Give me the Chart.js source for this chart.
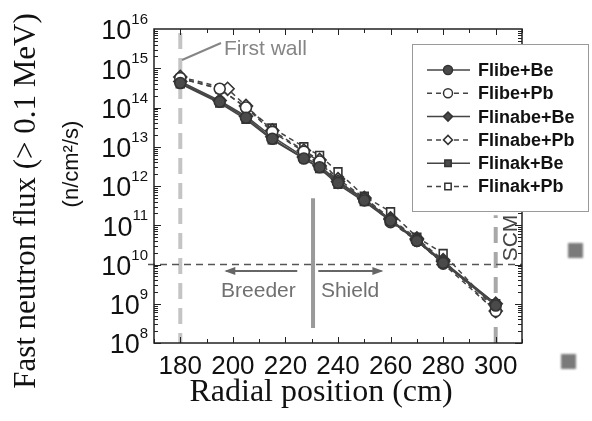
<!DOCTYPE html>
<html>
<head>
<meta charset="utf-8">
<script src="https://cdn.jsdelivr.net/npm/chart.js@4.4.1/dist/chart.umd.min.js"></script>
<style>
  html, body { margin: 0; padding: 0; background: #fff; }
  #wrap { position: relative; width: 592px; height: 421px; }
  .blob { position: absolute; width: 15px; height: 15px; background: #7a7a7a; filter: blur(1px); }
</style>
</head>
<body>
<div id="wrap">
  <canvas id="fluxChart" width="592" height="421"></canvas>
  <div class="blob" style="left:568px;top:243px"></div>
  <div class="blob" style="left:561px;top:354px"></div>
</div>
<script>
const CHART = document.getElementById("fluxChart");

// radial positions (cm)
let radius = [180, 195, 205, 215, 227, 233, 240, 250, 260, 270, 280, 300]
let flinabePbRadius = [180, 198, 205, 215, 227, 233, 240, 250, 260, 270, 280, 300]

// fast neutron flux (n/cm2/s)
let flibeBe   = [4.2e14, 1.4e14, 5.5e13, 1.6e13, 5.0e12, 3.0e12, 1.2e12, 4.3e11, 1.3e11, 4.0e10, 1.1e10, 9.0e8]
let flibePb   = [5.6e14, 3.0e14, 1.0e14, 2.4e13, 7.5e12, 4.2e12, 1.3e12, 4.6e11, 1.2e11, 4.0e10, 1.05e10, 6.5e8]
let flinabeBe = [4.6e14, 1.5e14, 6.0e13, 1.8e13, 5.5e12, 3.3e12, 1.3e12, 4.7e11, 1.4e11, 4.3e10, 1.2e10, 1.0e9]
let flinabePb = [6.0e14, 3.0e14, 1.1e14, 2.6e13, 8.0e12, 4.6e12, 1.5e12, 5.0e11, 1.5e11, 4.6e10, 1.3e10, 6.5e8]
let flinakBe  = [4.0e14, 1.3e14, 5.0e13, 1.5e13, 5.0e12, 2.8e12, 1.1e12, 4.0e11, 1.3e11, 4.0e10, 1.1e10, 1.0e9]
let flinakPb  = [5.5e14, 3.0e14, 1.0e14, 3.0e13, 1.0e13, 6.0e12, 2.3e12, 5.5e11, 2.2e11, 5.0e10, 1.9e10, 7.0e8]

let xTicks = [180, 200, 220, 240, 260, 280, 300]
let yExponents = [8, 9, 10, 11, 12, 13, 14, 15, 16]

function pts(xs, ys) {
    return xs.map((x, i) => ({ x: x, y: ys[i] }));
}

function series(label, xs, ys, style, filled, dashed) {
    return {
        label: label,
        data: pts(xs, ys),
        borderColor: '#444',
        borderWidth: 1.5,
        borderDash: dashed ? [5, 4] : [],
        pointStyle: style,
        pointRadius: style === 'rectRot' ? 6.5 : 5.5,
        pointBorderWidth: 1.6,
        pointBorderColor: '#333',
        pointBackgroundColor: filled ? '#4a4a4a' : '#fff',
        fill: false,
        tension: 0,
    };
}

const data = {
    datasets: [
        series('Flibe+Be', radius, flibeBe, 'circle', true, false),
        series('Flibe+Pb', radius, flibePb, 'circle', false, true),
        series('Flinabe+Be', radius, flinabeBe, 'rectRot', true, false),
        series('Flinabe+Pb', flinabePbRadius, flinabePb, 'rectRot', false, true),
        series('Flinak+Be', radius, flinakBe, 'rect', true, false),
        series('Flinak+Pb', radius, flinakPb, 'rect', false, true),
    ]
};

// background lines: first wall, breeder/shield border, 1e10 limit, SCM
const guides = {
    id: 'guides',
    beforeDatasetsDraw(chart) {
        const { ctx, chartArea: a, scales: { x, y } } = chart;
        ctx.save();
        // first wall
        ctx.strokeStyle = '#c4c4c4';
        ctx.lineWidth = 4;
        ctx.setLineDash([16, 9]);
        ctx.beginPath();
        ctx.moveTo(x.getPixelForValue(180), a.top + 4);
        ctx.lineTo(x.getPixelForValue(180), a.bottom);
        ctx.stroke();
        // SCM
        ctx.strokeStyle = '#a8a8a8';
        ctx.beginPath();
        ctx.moveTo(x.getPixelForValue(300), a.bottom);
        ctx.lineTo(x.getPixelForValue(300), y.getPixelForValue(1.8e11));
        ctx.stroke();
        // breeder / shield border
        ctx.setLineDash([]);
        ctx.strokeStyle = '#9a9a9a';
        ctx.beginPath();
        ctx.moveTo(x.getPixelForValue(230.5), y.getPixelForValue(4.9e11));
        ctx.lineTo(x.getPixelForValue(230.5), y.getPixelForValue(2.4e8));
        ctx.stroke();
        // 1e10 limit
        ctx.strokeStyle = '#555';
        ctx.lineWidth = 1.3;
        ctx.setLineDash([7, 5]);
        ctx.beginPath();
        ctx.moveTo(a.left - 6, y.getPixelForValue(1e10));
        ctx.lineTo(a.right, y.getPixelForValue(1e10));
        ctx.stroke();
        ctx.setLineDash([]);
        // arrows
        const ay = y.getPixelForValue(6.8e9);
        ctx.strokeStyle = '#666';
        ctx.fillStyle = '#666';
        ctx.lineWidth = 2;
        function arrow(x0, x1) {
            ctx.beginPath();
            ctx.moveTo(x0, ay);
            ctx.lineTo(x1, ay);
            ctx.stroke();
            const d = x1 > x0 ? 1 : -1;
            ctx.beginPath();
            ctx.moveTo(x1 + d * 2, ay);
            ctx.lineTo(x1 - d * 9, ay - 4);
            ctx.lineTo(x1 - d * 9, ay + 4);
            ctx.closePath();
            ctx.fill();
        }
        arrow(x.getPixelForValue(224.5), x.getPixelForValue(197.5));
        arrow(x.getPixelForValue(232.5), x.getPixelForValue(256.5));
        ctx.font = '21px "Liberation Sans", Arial, sans-serif';
        ctx.fillStyle = '#707070';
        ctx.textBaseline = 'middle';
        ctx.textAlign = 'left';
        ctx.fillText('Breeder', x.getPixelForValue(195.5), ay + 20);
        ctx.fillText('Shield', x.getPixelForValue(233.5), ay + 20);
        // first wall label
        ctx.font = '21px "Liberation Sans", Arial, sans-serif';
        ctx.fillStyle = '#858585';
        ctx.fillText('First wall', 224, 49);
        ctx.strokeStyle = '#858585';
        ctx.lineWidth = 2;
        ctx.beginPath();
        ctx.moveTo(182, 60);
        ctx.lineTo(221, 43);
        ctx.stroke();
        // SCM label
        ctx.save();
        ctx.translate(511, 238);
        ctx.rotate(-Math.PI / 2);
        ctx.fillStyle = '#444';
        ctx.textAlign = 'center';
        ctx.font = '21px "Liberation Sans", Arial, sans-serif';
        ctx.fillText('SCM', 0, 0);
        ctx.restore();
        ctx.restore();
    }
};

// frame, ticks, tick labels, titles and legend
const frame = {
    id: 'frame',
    afterDraw(chart) {
        const { ctx, chartArea: a, scales: { x, y } } = chart;
        ctx.save();
        ctx.strokeStyle = '#222';
        ctx.lineWidth = 1.5;
        ctx.strokeRect(a.left, a.top, a.right - a.left, a.bottom - a.top);
        ctx.lineWidth = 1;
        ctx.beginPath();
        for (let v = 170; v <= 310; v += 10) {
            const px = Math.round(x.getPixelForValue(v)) + 0.5;
            const len = v % 20 === 0 ? 6 : 4;
            ctx.moveTo(px, a.bottom); ctx.lineTo(px, a.bottom - len);
            ctx.moveTo(px, a.top); ctx.lineTo(px, a.top + len);
        }
        for (let e = 8; e < 16; e++) {
            for (let m = 1; m < 10; m++) {
                const py = Math.round(y.getPixelForValue(m * Math.pow(10, e))) + 0.5;
                const len = m === 1 ? 7 : 4;
                ctx.moveTo(a.left, py); ctx.lineTo(a.left + len, py);
                ctx.moveTo(a.right, py); ctx.lineTo(a.right - len, py);
            }
        }
        ctx.stroke();

        // x tick labels
        ctx.fillStyle = '#111';
        ctx.font = '26px "Liberation Sans", Arial, sans-serif';
        ctx.textAlign = 'center';
        ctx.textBaseline = 'middle';
        xTicks.forEach(v => ctx.fillText(String(v), x.getPixelForValue(v), 367));

        // y tick labels 10^n
        yExponents.forEach(e => {
            const py = y.getPixelForValue(Math.pow(10, e));
            const ex = String(e);
            ctx.font = '15px "Liberation Sans", Arial, sans-serif';
            ctx.textAlign = 'right';
            const ew = ctx.measureText(ex).width;
            ctx.fillText(ex, 148, py - 9);
            ctx.font = '27px "Liberation Sans", Arial, sans-serif';
            ctx.fillText('10', 148 - ew, py + 3);
        });

        // axis titles
        ctx.font = '32px "Liberation Serif", "Times New Roman", serif';
        ctx.textAlign = 'center';
        ctx.fillText('Radial position (cm)', 321, 393);
        ctx.save();
        ctx.translate(27, 201);
        ctx.rotate(-Math.PI / 2);
        ctx.font = '31px "Liberation Serif", "Times New Roman", serif';
        ctx.fillText('Fast neutron flux (> 0.1 MeV)', 0, 0);
        ctx.font = '22px "Liberation Sans", Arial, sans-serif';
        ctx.fillText('(n/cm\u00b2/s)', 37, 45);
        ctx.restore();

        // legend
        ctx.fillStyle = '#fff';
        ctx.fillRect(412, 44, 177, 168);
        ctx.strokeStyle = '#9a9a9a';
        ctx.lineWidth = 1;
        ctx.strokeRect(412.5, 44.5, 176, 167);
        chart.data.datasets.forEach((ds, i) => {
            const ly = 70 + i * 23.3;
            ctx.strokeStyle = ds.borderColor;
            ctx.lineWidth = 1.5;
            ctx.setLineDash(ds.borderDash);
            ctx.beginPath();
            ctx.moveTo(427, ly); ctx.lineTo(470, ly);
            ctx.stroke();
            ctx.setLineDash([]);
            ctx.fillStyle = ds.pointBackgroundColor;
            ctx.strokeStyle = ds.pointBorderColor;
            ctx.lineWidth = 1.5;
            Chart.helpers.drawPoint(ctx, { pointStyle: ds.pointStyle, radius: 4.5, rotation: 0, borderWidth: 1.5 }, 448, ly);
            ctx.fillStyle = '#111';
            ctx.font = 'bold 18px "Liberation Sans", Arial, sans-serif';
            ctx.textAlign = 'left';
            ctx.fillText(ds.label, 478, ly + 1);
        });
        ctx.restore();
    }
};

let fluxChart = new Chart(CHART, {
    type: 'line',
    data: data,
    plugins: [guides, frame],
    options: {
        responsive: false,
        animation: false,
        layout: { padding: { left: 0, right: 70, top: 29, bottom: 0 } },
        plugins: { legend: { display: false }, tooltip: { enabled: false } },
        scales: {
            x: {
                type: 'linear', min: 170, max: 310,
                ticks: { display: false }, grid: { display: false }, border: { display: false },
                afterFit: s => { s.height = 78; }
            },
            y: {
                type: 'logarithmic', min: 1e8, max: 1e16,
                ticks: { display: false }, grid: { display: false }, border: { display: false },
                afterFit: s => { s.width = 154; }
            }
        }
    }
})
</script>
</body>
</html>
